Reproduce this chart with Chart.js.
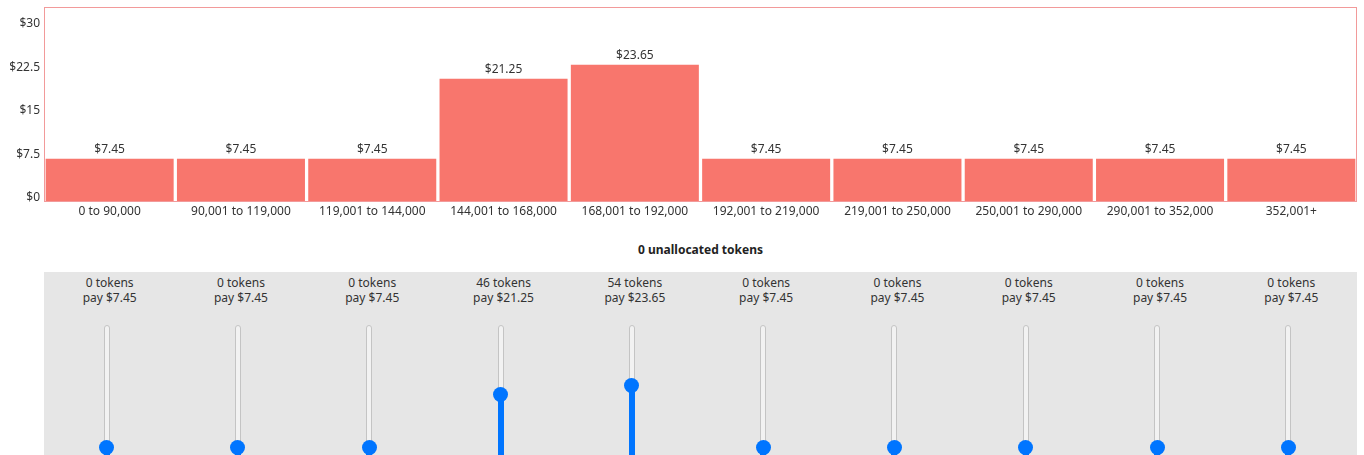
<!DOCTYPE html>
<html>
<head>
<meta charset="utf-8">
<script src="https://cdn.jsdelivr.net/npm/chart.js@4.4.1/dist/chart.umd.min.js"></script>
<style>
    body { margin: 0; background: #fff; font-family: "Noto Sans", sans-serif; color: #333; }
    #chartBox { position: absolute; left: 0; top: 0; width: 1364px; height: 222px; }
    #unallocated { position: absolute; left: 44px; top: 242px; width: 1313px; text-align: center;
        font-size: 12px; font-weight: bold; line-height: 16px; color: #222; }
    #panel { position: absolute; left: 44px; top: 272px; width: 1313px; height: 200px;
        background: #e6e6e6; display: flex; }
    .col { flex: 1; position: relative; text-align: center; font-size: 12px; line-height: 15px; padding-top: 3px; }
    .track { position: absolute; top: 53px; width: 4px; height: 130px; background: #f2f2f2;
        border: 1px solid #c4c4c4; border-radius: 3px; }
    .fill { position: absolute; width: 6px; background: #0075ff; }
    .thumb { position: absolute; width: 15px; height: 15px; border-radius: 50%; background: #0075ff; }
</style>
</head>
<body>
<div id="chartBox"><canvas id="payChart"></canvas></div>
<div id="unallocated"></div>
<div id="panel"></div>
<script>
const categories = ['0 to 90,000', '90,001 to 119,000', '119,001 to 144,000', '144,001 to 168,000',
    '168,001 to 192,000', '192,001 to 219,000', '219,001 to 250,000', '250,001 to 290,000',
    '290,001 to 352,000', '352,001+'];
const prices = [7.45, 7.45, 7.45, 21.25, 23.65, 7.45, 7.45, 7.45, 7.45, 7.45];
const tokens = [0, 0, 0, 46, 54, 0, 0, 0, 0, 0];
const yTicks = [0, 7.5, 15, 22.5, 30];
const yMax = 33.6;
const totalTokens = 100;

document.addEventListener('DOMContentLoaded', () => {
    drawChart();
    drawSliders();
});

// frame round the plot area
const areaBorder = {
    id: 'areaBorder',
    afterDatasetsDraw(chart) {
        const { ctx, chartArea: a } = chart;
        ctx.save();
        ctx.strokeStyle = '#f29a9a';
        ctx.lineWidth = 1;
        ctx.strokeRect(a.left + 0.5, a.top + 0.5, a.width - 1, a.height - 1);
        ctx.restore();
    }
};

// price labels above each bar
const barLabels = {
    id: 'barLabels',
    afterDatasetsDraw(chart) {
        const ctx = chart.ctx;
        const meta = chart.getDatasetMeta(0);
        ctx.save();
        ctx.font = '12px "Noto Sans", sans-serif';
        ctx.fillStyle = '#333';
        ctx.textAlign = 'center';
        ctx.textBaseline = 'middle';
        meta.data.forEach((bar, i) => {
            ctx.fillText('$' + prices[i].toFixed(2), bar.x, bar.y - 9);
        });
        ctx.restore();
    }
};

function drawChart() {
    const ctx = document.getElementById('payChart').getContext('2d');
    new Chart(ctx, {
        type: 'bar',
        data: {
            labels: categories,
            datasets: [{
                data: prices,
                backgroundColor: '#f8766d',
                barPercentage: 0.975,
                categoryPercentage: 1
            }]
        },
        options: {
            animation: false,
            responsive: true,
            maintainAspectRatio: false,
            layout: { padding: { top: 7, right: 7, left: 0, bottom: 0 } },
            plugins: { legend: { display: false }, tooltip: { enabled: false } },
            scales: {
                x: {
                    grid: { display: false, drawTicks: false },
                    border: { display: false },
                    afterFit: scale => { scale.height = 20; },
                    ticks: {
                        padding: 2,
                        maxRotation: 0,
                        autoSkip: false,
                        color: '#333',
                        font: { family: '"Noto Sans", sans-serif', size: 12 }
                    }
                },
                y: {
                    min: 0,
                    max: yMax,
                    grid: { display: false, drawTicks: false },
                    border: { display: false },
                    afterFit: scale => {
                        scale.width = 44;
                        scale.paddingTop = 0;
                        scale.paddingBottom = 0;
                    },
                    afterBuildTicks: scale => { scale.ticks = yTicks.map(v => ({ value: v })); },
                    ticks: {
                        padding: 4,
                        labelOffset: -4,
                        color: '#333',
                        font: { family: '"Noto Sans", sans-serif', size: 12 },
                        callback: v => '$' + v
                    }
                }
            }
        },
        plugins: [areaBorder, barLabels]
    });
}

function drawSliders() {
    const used = tokens.reduce((s, t) => s + t, 0);
    document.getElementById('unallocated').textContent = (totalTokens - used) + ' unallocated tokens';

    const panel = document.getElementById('panel');
    const trackTop = 53, trackH = 130, thumb = 15;
    tokens.forEach((t, i) => {
        const col = document.createElement('div');
        col.className = 'col';
        col.innerHTML = t + ' tokens<br>pay $' + prices[i].toFixed(2);

        const cx = 131.3 / 2 - 3;
        const thumbY = trackTop + trackH - thumb / 2 - (t / totalTokens) * (trackH - thumb);

        const track = document.createElement('div');
        track.className = 'track';
        track.style.left = (cx - 3) + 'px';
        col.appendChild(track);

        const fill = document.createElement('div');
        fill.className = 'fill';
        fill.style.left = (cx - 3) + 'px';
        fill.style.top = thumbY + 'px';
        fill.style.height = (trackTop + trackH - thumbY) + 'px';
        col.appendChild(fill);

        const knob = document.createElement('div');
        knob.className = 'thumb';
        knob.style.left = (cx - thumb / 2) + 'px';
        knob.style.top = (thumbY - thumb / 2) + 'px';
        col.appendChild(knob);

        panel.appendChild(col);
    });
}
</script>
</body>
</html>
